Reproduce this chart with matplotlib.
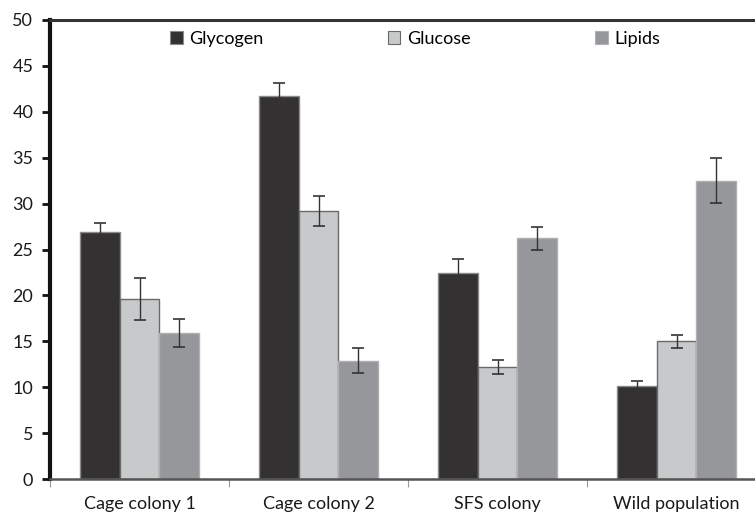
import matplotlib.pyplot as plt
import numpy as np
from matplotlib.patches import Patch

# data
categories = ["Cage colony 1", "Cage colony 2", "SFS colony", "Wild population"]
series_names = ["Glycogen", "Glucose", "Lipids"]
glycogen = [26.9, 41.7, 22.4, 10.1]
glycogen_err = [1.0, 1.4, 1.55, 0.58]
glucose = [19.6, 29.2, 12.2, 15.0]
glucose_err = [2.3, 1.65, 0.75, 0.7]
lipids = [15.9, 12.9, 26.2, 32.5]
lipids_err = [1.5, 1.4, 1.25, 2.45]
y_ticks = [0, 5, 10, 15, 20, 25, 30, 35, 40, 45, 50]

FILL = ["#333132", "#c8c9cb", "#96979b"]
EDGE = ["#8a8a8a", "#6a6a6a", "#b0b0b0"]
FS = 13

plt.rcParams["font.family"] = ["Lato", "DejaVu Sans"]
plt.rcParams["font.size"] = FS

W, H = 755, 516
fig = plt.figure(figsize=(W / 100, H / 100), dpi=100)
# plot area runs past the right edge of the picture (cropped like the original)
x0, x1, y_top, y_bot = 50, 766, 20, 479
ax = fig.add_axes([x0 / W, (H - y_bot) / H, (x1 - x0) / W, (y_bot - y_top) / H])

x = np.arange(len(categories))
bw = 0.222
values = [glycogen, glucose, lipids]
errors = [glycogen_err, glucose_err, lipids_err]
for i, (vals, errs) in enumerate(zip(values, errors)):
    ax.bar(x + (i - 1) * bw, vals, width=bw, color=FILL[i], edgecolor=EDGE[i],
           linewidth=1.0, zorder=2)
    ax.errorbar(x + (i - 1) * bw, vals, yerr=errs, fmt="none", ecolor="#333333",
                elinewidth=1.0, capsize=4, capthick=1.2, zorder=3)

ax.set_xlim(-0.5, len(categories) - 0.5)
ax.set_ylim(0, 50)
ax.set_yticks(y_ticks)
ax.set_xticks(np.arange(len(categories) + 1) - 0.5, minor=False)
ax.set_xticklabels([])
ax.set_xticks(x, minor=True)
ax.set_xticklabels(categories, minor=True)
ax.tick_params(axis="x", which="minor", length=0, pad=12, labelsize=FS,
               labelcolor="#1a1a1a")
ax.tick_params(axis="x", which="major", length=6, width=0.8, color="#999999",
               direction="out")
ax.tick_params(axis="y", length=6, width=2, color="#111111", direction="out",
               pad=6, labelsize=FS, labelcolor="#1a1a1a")

ax.spines["left"].set_linewidth(3)
ax.spines["left"].set_color("#111111")
ax.spines["top"].set_linewidth(2.2)
ax.spines["top"].set_color("#333333")
ax.spines["bottom"].set_linewidth(1.8)
ax.spines["bottom"].set_color("#555555")
ax.spines["right"].set_visible(False)

handles = [Patch(facecolor=FILL[i], edgecolor=EDGE[i], linewidth=0.8)
           for i in range(3)]
ax.legend(handles, series_names, ncol=3, frameon=False, loc="upper left",
          bbox_to_anchor=((170 - x0) / (x1 - x0), 1 - 11 / (y_bot - y_top)),
          borderpad=0, borderaxespad=0, handlelength=0.7, handleheight=0.7,
          handletextpad=0.35, columnspacing=6.9, fontsize=FS)

fig.savefig("out.png", dpi=100)
